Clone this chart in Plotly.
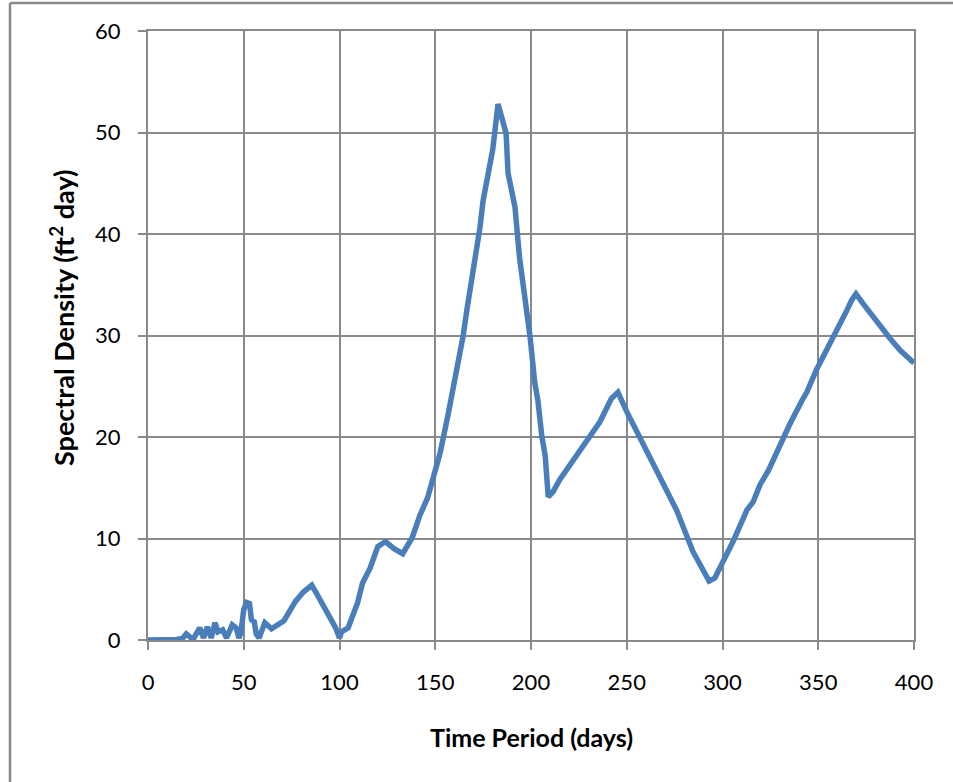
import plotly.graph_objects as go

# Data
period_days = [0, 5, 10, 15, 18, 20, 23.5, 27, 29, 31, 33, 35, 36.5, 39, 41, 44, 46, 47.5,
               48.5, 50, 51.5, 53, 54, 55.5, 56.5, 58, 61, 64.5, 71, 74, 77, 81, 85.5, 88,
               91, 94, 96, 98, 100, 101, 104.5, 107, 109.5, 112, 116, 120, 124, 128.5, 133,
               138, 142, 146, 149, 152.5, 156.7, 161, 164.5, 166.5, 169, 171, 173.4, 175,
               178.6, 180, 182.8, 185, 187, 188, 191.6, 194, 197, 199.5, 202, 203.6, 205.7,
               207.4, 209, 211.5, 215, 220, 229, 236, 242, 245.4, 250, 258.5, 267, 276,
               284.6, 289, 293, 296, 301, 305.5, 309, 312.7, 316, 319.6, 324, 331.6, 335,
               341.5, 344, 349, 356, 365, 367.5, 369.7, 374, 378.6, 387.5, 393, 400]
spectral_density = [0, 0, 0, 0.05, 0.15, 0.6, 0.05, 1.2, 0.2, 1.3, 0.2, 1.7, 0.8, 1.0, 0.2, 1.5, 1.2, 0.2,
                    0.7, 3.0, 3.7, 3.6, 2.0, 1.8, 0.6, 0.2, 1.7, 1.1, 1.9, 2.8, 3.8, 4.7, 5.4, 4.6,
                    3.6, 2.6, 2.0, 1.2, 0.2, 0.8, 1.2, 2.3, 3.7, 5.6, 7.1, 9.2, 9.7, 9.0, 8.5,
                    10.1, 12.3, 14.0, 16.0, 18.4, 22.2, 26.3, 29.9, 32.5, 35.2, 38.1, 40.7, 43.3,
                    47.0, 48.3, 52.8, 51.5, 49.9, 46.0, 42.7, 37.7, 33.5, 29.9, 25.3, 23.6, 20.0,
                    18.2, 14.1, 14.6, 15.8, 17.2, 19.5, 21.5, 23.8, 24.4, 22.5, 19.4, 16.1, 12.8,
                    8.7, 7.2, 5.8, 6.1, 7.9, 9.7, 11.2, 12.8, 13.6, 15.3, 16.7, 20.0, 21.2,
                    23.6, 24.4, 26.6, 29.1, 32.5, 33.5, 34.1, 33.0, 31.8, 29.7, 28.5, 27.3]

x_ticks = [0, 50, 100, 150, 200, 250, 300, 350, 400]
y_ticks = [0, 10, 20, 30, 40, 50, 60]
x_title = "Time Period (days)"
y_title_main = "Spectral Density (ft"
y_title_sup = "2"
y_title_end = " day)"

W, H = 953, 782
L, R, T, B = 148, 914, 31, 640   # plot area in page pixels
FONT = "Lato, Liberation Sans, sans-serif"
GRID = "#898989"


def px_x(px):
    return (px - L) / (R - L)


def px_y(py):
    return (B - py) / (B - T)


fig = go.Figure()
fig.add_trace(go.Scatter(
    x=period_days, y=spectral_density, mode="lines",
    line=dict(color="#4A7EBB", width=5.5), showlegend=False, hoverinfo="x+y"))

axis_common = dict(
    showgrid=True, gridcolor=GRID, gridwidth=2,
    showline=True, linecolor=GRID, linewidth=2, mirror=True,
    ticks="outside", ticklen=8, tickwidth=2, tickcolor=GRID,
    zeroline=False,
    tickfont=dict(family=FONT, size=22, color="#000000"),
)

fig.update_xaxes(range=[0, 400], tickvals=x_ticks, ticktext=[str(v) for v in x_ticks],
                 ticklabelstandoff=14, **axis_common)
fig.update_yaxes(range=[0, 60], tickvals=y_ticks, ticktext=[str(v) for v in y_ticks],
                 ticklabelstandoff=13, **axis_common)

fig.add_annotation(text="<b>" + x_title + "</b>", xref="paper", yref="paper",
                   x=px_x(531), y=px_y(737), xanchor="center", yanchor="middle",
                   showarrow=False, font=dict(family=FONT, size=25, color="#000000"))
fig.add_annotation(text="<b>" + y_title_main + "<sup>" + y_title_sup + "</sup>" + y_title_end + "</b>",
                   xref="paper", yref="paper",
                   x=px_x(62), y=px_y(318), xanchor="center", yanchor="middle", textangle=-90,
                   showarrow=False, font=dict(family=FONT, size=27, color="#000000"))

# outer chart frame (left and top edges visible)
fig.add_shape(type="line", xref="paper", yref="paper",
              x0=px_x(10), y0=px_y(3), x1=px_x(10), y1=px_y(800),
              line=dict(color=GRID, width=2.5))
fig.add_shape(type="line", xref="paper", yref="paper",
              x0=px_x(10), y0=px_y(3), x1=px_x(970), y1=px_y(3),
              line=dict(color=GRID, width=2.5))

fig.update_layout(
    width=W, height=H,
    margin=dict(l=L, r=W - R, t=T, b=H - B),
    paper_bgcolor="white", plot_bgcolor="white",
    font=dict(family=FONT, color="#000000"),
)

fig.write_html("out.html",
               config={"displayModeBar": False},
               post_script="document.body.style.margin='0';document.body.style.overflow='hidden';")
